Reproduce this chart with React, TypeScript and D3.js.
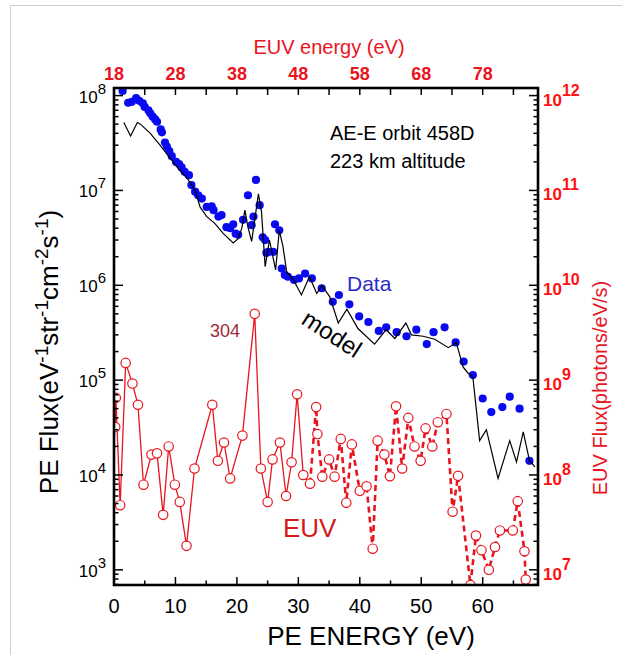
import React, { useEffect, useRef } from "react";
import * as d3 from "d3";

// PE flux measured (blue dots), eV^-1 str^-1 cm^-2 s^-1
const dataEnergy = [
  1.4, 2.3, 2.9, 3.6, 4.1, 4.7, 5.0, 5.6, 5.9, 6.3, 6.7, 7.0, 7.6, 7.8, 8.3, 8.6, 9.0, 9.4,
  10.1, 10.6, 11.0, 11.5, 12.2, 12.6, 13.2, 13.7, 14.3, 15.1, 15.9, 16.2, 17.0, 17.5, 18.3,
  18.9, 19.4, 19.8, 20.2, 21.0, 21.8, 22.4, 22.7, 23.1, 23.7, 24.2, 24.6, 24.8, 25.1, 25.9,
  26.2, 26.9, 27.3, 27.8, 28.3, 29.3, 30.1, 31.1, 32.2, 33.8, 35.6, 36.6, 38.3, 39.9, 41.4,
  43.1, 44.3, 46.0, 47.6, 49.2, 50.9, 52.0, 53.8, 55.6, 56.9, 58.4, 60.0, 61.4, 63.2, 64.4,
  66.0, 67.6,
];
const dataFlux = [
  1.12e8, 8.4e7, 8.6e7, 9.4e7, 8.8e7, 8.3e7, 7.6e7, 7.0e7, 6.5e7, 6.0e7, 5.6e7, 5.3e7, 4.4e7,
  4.1e7, 3.2e7, 2.9e7, 2.6e7, 2.3e7, 2.0e7, 1.9e7, 1.75e7, 1.57e7, 1.45e7, 1.14e7, 9.7e6,
  8.9e6, 8.2e6, 6.7e6, 6.8e6, 6.2e6, 5.3e6, 5.5e6, 4.1e6, 4.0e6, 4.4e6, 3.5e6, 3.4e6, 4.9e6,
  8.9e6, 4.3e6, 5.3e6, 1.29e7, 7.0e6, 3.2e6, 3.0e6, 2.2e6, 2.25e6, 2.25e6, 4.4e6, 3.8e6,
  1.5e6, 1.28e6, 1.23e6, 1.14e6, 1.18e6, 1.33e6, 1.18e6, 9.3e5, 6.7e5, 7.9e5, 6.3e5, 4.7e5,
  4.1e5, 3.3e5, 3.6e5, 3.2e5, 2.9e5, 3.4e5, 2.4e5, 3.2e5, 3.6e5, 2.5e5, 1.57e5, 1.13e5,
  6.4e4, 4.6e4, 5.2e4, 6.7e4, 5.0e4, 1.41e4,
];

// model PE flux (black line)
const modelEnergy = [
  1.6, 2.7, 3.8, 4.3, 5.9, 7.5, 9.1, 10.7, 12.1, 13.2, 14.0, 15.1, 16.4, 17.8, 19.4, 20.2,
  20.8, 21.3, 21.8, 22.4, 22.9, 23.5, 24.0, 24.6, 25.3, 26.3, 26.9, 27.5, 28.1, 29.2, 30.5,
  31.8, 33.0, 33.8, 35.1, 36.5, 37.9, 39.7, 42.4, 44.3, 45.7, 47.5, 48.4, 50.3, 52.2, 54.4,
  55.7, 56.8, 57.6, 58.4, 59.5, 60.6, 62.5, 64.4, 65.5, 66.6, 67.6, 68.5,
];
const modelFlux = [
  5.2e7, 3.75e7, 5.2e7, 5.0e7, 4.0e7, 3.0e7, 2.2e7, 1.64e7, 1.29e7, 1.0e7, 6.7e6, 5.3e6,
  4.5e6, 3.5e6, 2.8e6, 3.1e6, 4.0e6, 6.2e6, 4.1e6, 2.9e6, 4.9e6, 9.2e6, 6.0e6, 1.57e6,
  3.0e6, 1.45e6, 3.8e6, 2.55e6, 1.39e6, 1.14e6, 7.9e5, 1.23e6, 8.2e5, 1.0e6, 7.6e5, 4.0e5,
  5.6e5, 3.5e5, 2.4e5, 3.4e5, 2.75e5, 4.0e5, 3.0e5, 2.9e5, 2.7e5, 2.2e5, 2.5e5, 1.38e5,
  1.19e5, 1.08e5, 2.3e4, 3.0e4, 9.2e3, 2.3e4, 1.37e4, 2.85e4, 1.43e4, 1.22e4,
];

// EUV flux (red circles), photons/eV/s vs EUV energy (eV)
const euvEnergy = [
  18.2, 18.3, 19.0, 19.9, 21.0, 21.9, 22.8, 24.1, 25.0, 26.0, 26.9, 27.9, 28.7, 29.8, 31.1,
  34.0, 34.9, 35.9, 36.9, 38.9, 40.9, 41.9, 43.0, 43.8, 45.0, 46.0, 46.9, 47.8, 48.8, 49.9,
  50.9, 51.1, 51.9, 53.0, 53.9, 54.9, 55.8, 56.7, 58.0, 59.1, 60.1, 60.9, 62.0, 62.9, 63.9,
  64.9, 65.9, 66.9, 67.9, 68.7, 69.8, 70.7, 72.1, 73.1, 74.0, 76.0, 76.9, 77.8, 79.0, 80.0,
  80.8, 82.9, 83.7, 84.8, 85.0,
];
const euvFlux = [
  3.2e8, 6.5e8, 4.8e7, 1.52e9, 9.2e8, 5.5e8, 7.9e7, 1.64e8, 1.69e8, 3.8e7, 2.0e8, 7.9e7,
  5.2e7, 1.79e7, 1.17e8, 5.5e8, 1.41e8, 2.2e8, 9.2e7, 2.6e8, 5.0e9, 1.17e8, 5.2e7, 1.46e8,
  2.2e8, 6.0e7, 1.36e8, 7.1e8, 1.0e8, 8.1e7, 5.2e8, 2.7e8, 9.6e7, 1.46e8, 9.6e7, 2.4e8,
  5.1e7, 2.1e8, 6.8e7, 7.6e7, 1.67e7, 2.3e8, 1.64e8, 9.7e7, 5.3e8, 1.17e8, 4.0e8, 2.0e8,
  1.41e8, 3.1e8, 2.0e8, 3.6e8, 4.4e8, 4.1e7, 9.8e7, 6.9e6, 2.3e7, 1.61e7, 1.0e7, 1.74e7,
  2.6e7, 2.6e7, 5.3e7, 1.57e7, 7.9e6,
];
const euvDashedFrom = 49.9;

const peTicks = [0, 10, 20, 30, 40, 50, 60];
const euvTicks = [18, 28, 38, 48, 58, 68, 78];
const leftDecades = [3, 4, 5, 6, 7, 8];
const rightDecades = [7, 8, 9, 10, 11, 12];

const FONT = "Arial, 'Liberation Sans', sans-serif";
const RED = "#e8141e";

const App = () => {
  const ref = useRef<SVGSVGElement | null>(null);

  useEffect(() => {
    const svg = d3.select(ref.current);
    svg.selectAll("*").remove();

    const left = 114, right = 538, top = 88, bottom = 585;

    const x = d3.scaleLinear().domain([0, 69]).range([left, right]);
    const xTop = d3.scaleLinear().domain([18, 87]).range([left, right]);
    const y = d3.scaleLog().domain([10 ** 2.84, 10 ** 8.08]).range([bottom, top]);
    const yR = d3.scaleLog().domain([10 ** 6.84, 10 ** 12.08]).range([bottom, top]);

    // light page border
    svg.append("line").attr("x1", 10.5).attr("x2", 10.5).attr("y1", 5).attr("y2", 655)
      .style("stroke", "#cfcfcf");
    svg.append("line").attr("x1", 10).attr("x2", 622).attr("y1", 5.5).attr("y2", 5.5)
      .style("stroke", "#cfcfcf");

    svg.append("defs").append("clipPath").attr("id", "plot-clip")
      .append("rect").attr("x", left).attr("y", top)
      .attr("width", right - left).attr("height", bottom - top);

    const g = svg.append("g").attr("clip-path", "url(#plot-clip)");

    // EUV curve: solid then dashed
    const euv = euvEnergy.map((e, i) => [e, euvFlux[i]] as [number, number]);
    const euvLine = d3.line<[number, number]>().x((d) => xTop(d[0])).y((d) => yR(d[1]));
    const splitIdx = euvEnergy.indexOf(euvDashedFrom);
    g.append("path")
      .attr("d", euvLine(euv.slice(0, splitIdx + 1)))
      .style("fill", "none").style("stroke", RED).style("stroke-width", 1.3);
    g.append("path")
      .attr("d", euvLine(euv.slice(splitIdx)))
      .style("fill", "none").style("stroke", RED).style("stroke-width", 2.6)
      .style("stroke-dasharray", "6,4");
    g.append("g").selectAll("circle").data(euv).join("circle")
      .attr("cx", (d) => xTop(d[0])).attr("cy", (d) => yR(d[1])).attr("r", 4.7)
      .style("fill", "white").style("stroke", RED).style("stroke-width", 1.2);

    // measured PE data
    g.append("g").selectAll("circle").data(dataEnergy).join("circle")
      .attr("cx", (d) => x(d)).attr("cy", (d, i) => y(dataFlux[i])).attr("r", 4.1)
      .style("fill", "#0a0af0");

    // model
    const modelLine = d3.line<number>().x((d) => x(d)).y((d, i) => y(modelFlux[i]));
    g.append("path").attr("d", modelLine(modelEnergy))
      .style("fill", "none").style("stroke", "black").style("stroke-width", 1.2);

    // ticks
    const ticks = svg.append("g").style("stroke", "black").style("stroke-width", 1.5);
    d3.range(5, 69, 5).forEach((v) => {
      const len = v % 10 === 0 ? 8 : 4.5;
      ticks.append("line").attr("x1", x(v)).attr("x2", x(v))
        .attr("y1", bottom).attr("y2", bottom - len);
      ticks.append("line").attr("x1", x(v)).attr("x2", x(v))
        .attr("y1", top).attr("y2", top + 7);
    });
    const logTicks = (scale: any, x0: number, dir: number) => {
      const [lo, hi] = scale.domain();
      for (let d = Math.floor(Math.log10(lo)); d <= Math.ceil(Math.log10(hi)); d++) {
        for (let k = 1; k <= 9; k++) {
          const v = k * 10 ** d;
          if (v < lo || v > hi) continue;
          const len = k === 1 ? 9 : 4.5;
          ticks.append("line").attr("x1", x0).attr("x2", x0 + dir * len)
            .attr("y1", scale(v)).attr("y2", scale(v));
        }
      }
    };
    logTicks(y, left, 1);
    logTicks(yR, right, -1);

    // frame
    svg.append("rect").attr("x", left).attr("y", top)
      .attr("width", right - left).attr("height", bottom - top)
      .style("fill", "none").style("stroke", "black").style("stroke-width", 2.6);

    // bottom axis labels
    peTicks.forEach((v) => {
      svg.append("text").attr("x", x(v)).attr("y", 613)
        .style("font-family", FONT).style("font-size", "20px")
        .style("text-anchor", "middle").text(v);
    });
    svg.append("text").attr("x", 371).attr("y", 645)
      .style("font-family", FONT).style("font-size", "26px")
      .style("text-anchor", "middle").text("PE ENERGY (eV)");

    // top axis labels
    euvTicks.forEach((v) => {
      svg.append("text").attr("x", xTop(v)).attr("y", 80)
        .style("font-family", FONT).style("font-size", "18px").style("font-weight", "bold")
        .style("fill", RED).style("text-anchor", "middle").text(v);
    });
    svg.append("text").attr("x", 329).attr("y", 54)
      .style("font-family", FONT).style("font-size", "20px").style("fill", RED)
      .style("text-anchor", "middle").text("EUV energy (eV)");

    // left axis labels
    leftDecades.forEach((d) => {
      const t = svg.append("text").attr("x", 106).attr("y", y(10 ** d) + 7)
        .style("font-family", FONT).style("font-size", "17px").style("text-anchor", "end");
      t.append("tspan").text("10");
      t.append("tspan").attr("dy", -9).style("font-size", "15px").text(d);
    });
    // right axis labels
    rightDecades.forEach((d) => {
      const t = svg.append("text").attr("x", 543).attr("y", yR(10 ** d) + 10)
        .style("font-family", FONT).style("font-size", "17px").style("font-weight", "bold")
        .style("fill", "#ff1010");
      t.append("tspan").text("10");
      t.append("tspan").attr("dy", -10).style("font-size", "16px").text(d);
    });

    // left axis title
    const lt = svg.append("text")
      .attr("transform", "translate(58,352) rotate(-90)")
      .style("font-family", FONT).style("font-size", "26px").style("text-anchor", "middle");
    lt.append("tspan").text("PE Flux(eV");
    lt.append("tspan").attr("dy", -10).style("font-size", "19px").text("-1");
    lt.append("tspan").attr("dy", 10).text("str");
    lt.append("tspan").attr("dy", -10).style("font-size", "19px").text("-1");
    lt.append("tspan").attr("dy", 10).text("cm");
    lt.append("tspan").attr("dy", -10).style("font-size", "19px").text("-2");
    lt.append("tspan").attr("dy", 10).text("s");
    lt.append("tspan").attr("dy", -10).style("font-size", "19px").text("-1");
    lt.append("tspan").attr("dy", 10).text(")");

    // right axis title
    svg.append("text")
      .attr("transform", "translate(607,388) rotate(-90)")
      .style("font-family", FONT).style("font-size", "20px").style("fill", RED)
      .style("text-anchor", "middle").text("EUV Flux(photons/eV/s)");

    // annotations
    svg.append("text").attr("x", 330).attr("y", 140)
      .style("font-family", FONT).style("font-size", "20px").text("AE-E orbit 458D");
    svg.append("text").attr("x", 330).attr("y", 168)
      .style("font-family", FONT).style("font-size", "20px").text("223 km altitude");
    svg.append("text").attr("x", 347).attr("y", 291)
      .style("font-family", FONT).style("font-size", "21px").style("fill", "#2b2bc8").text("Data");
    svg.append("text").attr("transform", "translate(300,323) rotate(33)")
      .style("font-family", FONT).style("font-size", "24px").text("model");
    svg.append("text").attr("x", 210).attr("y", 337)
      .style("font-family", FONT).style("font-size", "18px").style("fill", "#9e2a3a").text("304");
    svg.append("text").attr("x", 283).attr("y", 537)
      .style("font-family", FONT).style("font-size", "26px").style("fill", "#d41a1a").text("EUV");
  }, []);

  return (
    <svg
      ref={ref}
      width={622}
      height={655}
      style={{ position: "absolute", left: 0, top: 0, background: "white" }}
    />
  );
};

export default App;
